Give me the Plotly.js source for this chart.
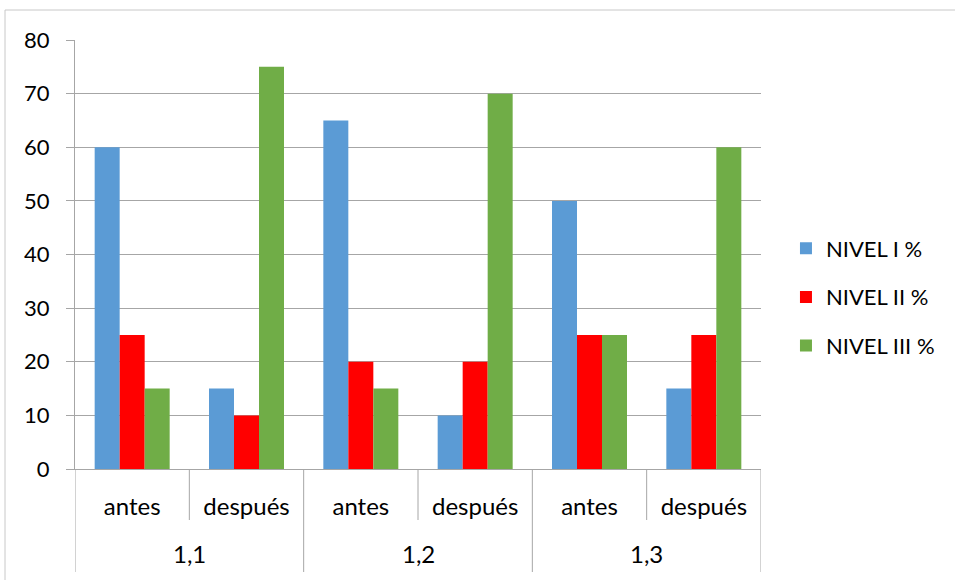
<!DOCTYPE html>
<html>
<head>
<meta charset="utf-8">
<script src="https://cdn.plot.ly/plotly-3.0.1.min.js"></script>
<style>html,body{margin:0;padding:0;background:#fff;}#chart{width:955px;height:580px;}</style>
</head>
<body>
<div id="chart"></div>
<script>
const groups = ["1,1", "1,2", "1,3"];
const innerCats = ["antes", "después", "antes", "después", "antes", "después"];
const seriesNames = ["NIVEL I %", "NIVEL II %", "NIVEL III %"];
const nivel1 = [60, 15, 65, 10, 50, 15];
const nivel2 = [25, 10, 20, 20, 25, 25];
const nivel3 = [15, 75, 15, 70, 25, 60];
const yTicks = [0, 10, 20, 30, 40, 50, 60, 70, 80];

const colors = ["#5B9BD5", "#FF0000", "#70AD47"];
const values = [nivel1, nivel2, nivel3];
const FONT = "Lato, 'Open Sans', sans-serif";
const GRID = "#A6A6A6";

const xPos = innerCats.map((_, i) => i);
const perGroup = innerCats.length / groups.length;

const traces = values.map((v, i) => ({
  type: "bar",
  name: seriesNames[i],
  x: xPos,
  y: v,
  marker: {color: colors[i]},
  legendgroup: "g" + i,
  hoverinfo: "y+name"
}));

const plotH = 580 - 40 - 111;
const shapes = [];
// inner dividers (between antes / después)
for (let k = 0; k < groups.length; k++) {
  const xb = k * perGroup + 0.5;
  shapes.push({type: "line", xref: "x", yref: "paper", x0: xb, x1: xb,
    y0: 0, y1: -51 / plotH, line: {color: GRID, width: 1}});
}
// outer dividers
for (let k = 0; k <= groups.length; k++) {
  const xb = k * perGroup - 0.5;
  shapes.push({type: "line", xref: "x", yref: "paper", x0: xb, x1: xb,
    y0: 0, y1: -103 / plotH, line: {color: GRID, width: 1}});
}
// outer chart border
shapes.push({type: "rect", xref: "paper", yref: "paper",
  x0: (5 - 75) / 686, x1: (960 - 75) / 686, y0: (469 - 590) / plotH, y1: (469 - 10) / plotH,
  line: {color: "#C8C8C8", width: 1}, fillcolor: "rgba(0,0,0,0)"});

const annotations = groups.map((g, k) => ({
  text: g, xref: "x", yref: "paper",
  x: k * perGroup + (perGroup - 1) / 2, y: -84 / plotH,
  xanchor: "center", yanchor: "middle", showarrow: false,
  font: {family: FONT, size: 24, color: "#000"}
}));

const layout = {
  width: 955, height: 580,
  margin: {l: 75, r: 194, t: 40, b: 111},
  paper_bgcolor: "#fff", plot_bgcolor: "#fff",
  font: {family: FONT, size: 22, color: "#000"},
  barmode: "group",
  bargap: 0.344,
  bargroupgap: 0,
  showlegend: true,
  legend: {
    x: 1.0364, xanchor: "left", y: (469 - 297) / plotH, yanchor: "middle",
    font: {family: FONT, size: 22, color: "#000"},
    traceorder: "grouped", tracegroupgap: 17
  },
  xaxis: {
    range: [-0.5, innerCats.length - 0.5],
    tickvals: xPos, ticktext: innerCats,
    showline: true, linecolor: GRID, linewidth: 1,
    ticks: "", showgrid: false, zeroline: false,
    tickfont: {family: FONT, size: 24, color: "#000"},
    ticklabelstandoff: 16
  },
  yaxis: {
    range: [0, 80],
    tickvals: yTicks,
    ticktext: yTicks.map(String),
    showgrid: true, gridcolor: GRID, gridwidth: 1,
    zeroline: false,
    showline: true, linecolor: GRID, linewidth: 1,
    ticks: "outside", ticklen: 8, tickcolor: GRID,
    tickfont: {family: FONT, size: 22, color: "#000"},
    ticklabelstandoff: 12
  },
  shapes: shapes,
  annotations: annotations
};

Plotly.newPlot("chart", traces, layout, {displayModeBar: false, staticPlot: true});
</script>
</body>
</html>
